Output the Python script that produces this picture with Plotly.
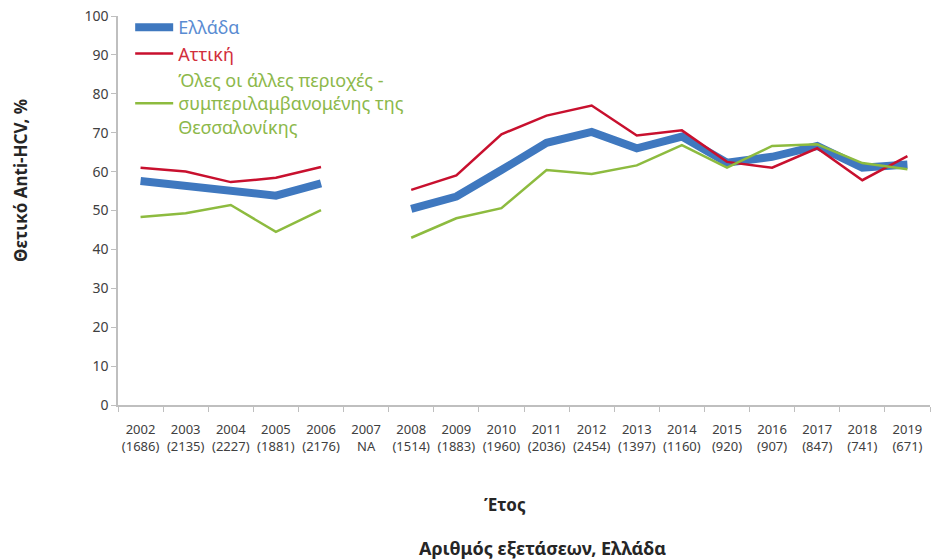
import plotly.graph_objects as go

years = ["2002", "2003", "2004", "2005", "2006", "2007", "2008", "2009", "2010",
         "2011", "2012", "2013", "2014", "2015", "2016", "2017", "2018", "2019"]
tests = ["(1686)", "(2135)", "(2227)", "(1881)", "(2176)", "NA", "(1514)", "(1883)", "(1960)",
         "(2036)", "(2454)", "(1397)", "(1160)", "(920)", "(907)", "(847)", "(741)", "(671)"]
tick_labels = [f"{y}<br>{t}" for y, t in zip(years, tests)]

greece = [57.6, 56.5, 55.4, 53.8, 57.0, None, 50.4, 53.6, 60.4,
          67.4, 70.2, 66.0, 69.0, 62.3, 63.8, 66.6, 61.0, 61.8]
attica = [61.0, 60.0, 57.3, 58.4, 61.2, None, 55.3, 59.0, 69.6,
          74.4, 77.0, 69.3, 70.6, 62.5, 61.0, 66.0, 57.8, 64.0]
others = [48.3, 49.3, 51.4, 44.5, 50.1, None, 43.0, 48.0, 50.6,
          60.4, 59.4, 61.6, 66.8, 61.0, 66.6, 67.0, 62.2, 60.6]

FONT = "Noto Sans"

fig = go.Figure()
fig.add_trace(go.Scatter(x=years, y=greece, mode="lines",
                         name='<span style="color:#5a8cd2">Ελλάδα</span>',
                         line=dict(color="#3f78bf", width=8), connectgaps=False))
fig.add_trace(go.Scatter(x=years, y=attica, mode="lines",
                         name='<span style="color:#d22f3c">Αττική</span>',
                         line=dict(color="#c8102e", width=2.5), connectgaps=False))
fig.add_trace(go.Scatter(x=years, y=others, mode="lines",
                         name='<span style="color:#8cb84a">Όλες οι άλλες περιοχές -<br>'
                              'συμπεριλαμβανομένης της<br>Θεσσαλονίκης</span>',
                         line=dict(color="#8dbb3f", width=2.5), connectgaps=False))

fig.update_layout(
    width=939, height=560,
    margin=dict(l=118, r=9, t=16, b=155, autoexpand=False),
    paper_bgcolor="white", plot_bgcolor="white",
    font=dict(family=FONT, color="#404040"),
    showlegend=True,
    legend=dict(x=0.015, y=0.984, xanchor="left", yanchor="top", yref="container",
                bgcolor="rgba(0,0,0,0)", font=dict(size=18, family=FONT),
                itemwidth=38, tracegroupgap=0, traceorder="normal"),
    xaxis=dict(type="category", tickmode="array", tickvals=years, ticktext=tick_labels,
               range=[-0.5, 17.5], showline=True, linecolor="#bfbfbf", linewidth=1.5,
               ticks="outside", tickson="boundaries", ticklen=5, tickcolor="#bfbfbf",
               showgrid=False, zeroline=False, ticklabelstandoff=12,
               tickfont=dict(size=13, family=FONT, color="#404040"), tickangle=0),
    yaxis=dict(range=[0, 100], tickvals=[0, 10, 20, 30, 40, 50, 60, 70, 80, 90, 100],
               showline=True, linecolor="#bfbfbf", linewidth=1.5, ticks="outside",
               ticklen=5, tickcolor="#bfbfbf", showgrid=False, zeroline=False,
               tickfont=dict(size=14, family=FONT, color="#404040")),
)

fig.add_annotation(text="<b>Θετικό Anti-HCV, %</b>", xref="paper", yref="paper",
                   x=-0.121, y=0.578, textangle=-90, showarrow=False,
                   font=dict(size=17, family=FONT, color="#262626"),
                   xanchor="center", yanchor="middle")
fig.add_annotation(text="<b>Έτος</b>", xref="paper", yref="paper",
                   x=0.477, y=-0.257, showarrow=False,
                   font=dict(size=17, family=FONT, color="#262626"),
                   xanchor="center", yanchor="middle")
fig.add_annotation(text="<b>Αριθμός εξετάσεων, Ελλάδα</b>", xref="paper", yref="paper",
                   x=0.523, y=-0.368, showarrow=False,
                   font=dict(size=18, family=FONT, color="#262626"),
                   xanchor="center", yanchor="middle")

fig.write_html("out.html", config={"displayModeBar": False},
               post_script="document.body.style.margin='0px';")
